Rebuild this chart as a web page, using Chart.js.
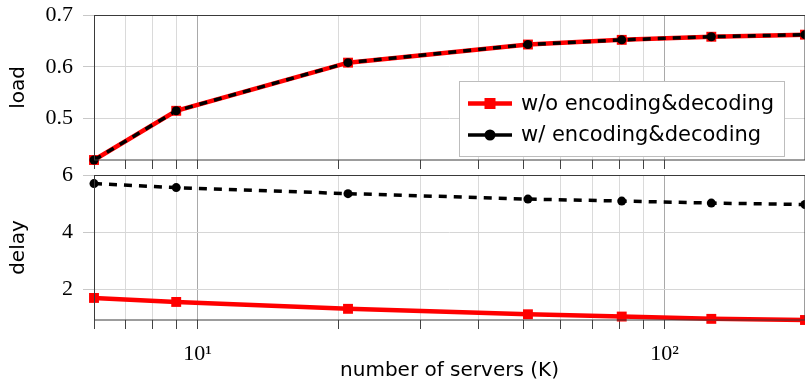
<!DOCTYPE html>
<html>
<head>
<meta charset="utf-8">
<script src="https://cdn.jsdelivr.net/npm/chart.js@4.4.0/dist/chart.umd.min.js"></script>
<style>
  html, body { margin: 0; padding: 0; background: #fff; }
  #wrap { position: relative; width: 805px; height: 381px; overflow: hidden; }
  .box { position: absolute; left: 0; width: 806px; }
  #top { top: 0; height: 171px; }
  #bot { top: 160px; height: 221px; }
</style>
</head>
<body>
<div id="wrap">
  <div class="box" id="top"><canvas id="chart-load"></canvas></div>
  <div class="box" id="bot"><canvas id="chart-delay"></canvas></div>
</div>
<script>
// values
const servers = [6, 9, 21, 51, 81, 126, 200];
const loadWithout = [0.420, 0.515, 0.608, 0.643, 0.652, 0.658, 0.662];
const loadWith = [0.420, 0.515, 0.608, 0.643, 0.652, 0.658, 0.662];
const delayWithout = [1.71, 1.57, 1.33, 1.14, 1.06, 0.98, 0.94];
const delayWith = [5.70, 5.56, 5.35, 5.16, 5.09, 5.02, 4.97];

const seriesNames = ["w/o encoding&decoding", "w/ encoding&decoding"];
const xTicks = [6, 7, 8, 9, 10, 20, 30, 40, 50, 60, 70, 80, 90, 100, 200];
const xTickLabels = { 10: "10¹", 100: "10²" };
const loadTicks = [0.5, 0.6, 0.7];
const delayTicks = [2, 4, 6];

const SANS = "'DejaVu Sans', sans-serif";
const SERIF = "'Liberation Serif', 'DejaVu Serif', serif";

Chart.defaults.color = "#000";
Chart.defaults.font.family = SANS;

const pts = arr => servers.map((x, i) => ({ x: x, y: arr[i] }));

function makeSeries(without, withEnc) {
  return [
    {
      label: seriesNames[0],
      data: pts(without),
      borderColor: "#ff0000",
      backgroundColor: "#ff0000",
      borderWidth: 4.5,
      pointStyle: "rect",
      pointRadius: 7,
      pointBorderWidth: 0,
      order: 1,
      clip: false
    },
    {
      label: seriesNames[1],
      data: pts(withEnc),
      borderColor: "#000",
      backgroundColor: "#000",
      borderWidth: 3.5,
      borderDash: [8, 7],
      pointStyle: "circle",
      pointRadius: 4.5,
      pointBorderWidth: 0,
      order: 0,
      clip: false
    }
  ];
}

// frame around the plot area
const frame = {
  id: "frame",
  afterDatasetsDraw(chart) {
    const { ctx, chartArea: a } = chart;
    ctx.save();
    ctx.strokeStyle = "#3a3a3a";
    ctx.lineWidth = 1;
    const l = Math.round(a.left) + 0.5, t = Math.round(a.top) + 0.5;
    ctx.strokeRect(l, t, Math.round(a.right) - l, Math.round(a.bottom) - t);
    ctx.restore();
  }
};

// boxed legend with line + marker samples
const legendBox = {
  id: "legendBox",
  afterDraw(chart) {
    const ctx = chart.ctx;
    const bx = 459, by = 81, bw = 325, bh = 75;
    ctx.save();
    ctx.fillStyle = "#fff";
    ctx.fillRect(bx, by, bw, bh);
    ctx.strokeStyle = "#bdbdbd";
    ctx.lineWidth = 1;
    ctx.strokeRect(bx + 0.5, by + 0.5, bw, bh);
    const rows = [103.5, 135];
    chart.data.datasets.forEach((ds, i) => {
      const y = rows[i];
      ctx.strokeStyle = ds.borderColor;
      ctx.fillStyle = ds.backgroundColor;
      ctx.lineWidth = ds.borderWidth;
      ctx.setLineDash([]);
      ctx.beginPath();
      ctx.moveTo(468, y);
      ctx.lineTo(512, y);
      ctx.stroke();
      if (ds.pointStyle === "rect") {
        ctx.fillRect(490 - 5.5, y - 5.5, 11, 11);
      } else {
        ctx.beginPath();
        ctx.arc(490, y, 5.5, 0, Math.PI * 2);
        ctx.fill();
      }
      ctx.fillStyle = "#000";
      ctx.font = "21px " + SANS;
      ctx.textBaseline = "middle";
      ctx.textAlign = "left";
      ctx.fillText(ds.label, 521, y + 1);
    });
    ctx.restore();
  }
};

// no extra room for half labels at the ends of an axis
const noEdgePad = s => {
  s.paddingTop = 0;
  s.paddingBottom = 0;
  s.paddingLeft = 0;
  s.paddingRight = 0;
};

function xScale(showLabels) {
  return {
    type: "logarithmic",
    min: 6,
    max: 200,
    afterBuildTicks: s => { s.ticks = xTicks.map(v => ({ value: v })); },
    afterFit: noEdgePad,
    ticks: {
      display: showLabels,
      autoSkip: false,
      maxRotation: 0,
      padding: 12,
      font: { family: SERIF, size: 22 },
      callback: v => xTickLabels[v] || ""
    },
    grid: {
      color: c => (c.tick && (c.tick.value === 10 || c.tick.value === 100)) ? "#a9a9a9" : "#dadada",
      tickColor: "#444",
      tickLength: 9,
      lineWidth: 1
    },
    border: { display: false },
    title: {
      display: showLabels,
      text: "number of servers (K)",
      font: { family: SANS, size: 20 },
      padding: { top: -21, bottom: 0 }
    }
  };
}

function yScale(min, max, ticks, title, fmt) {
  return {
    min: min,
    max: max,
    afterBuildTicks: s => { s.ticks = ticks.map(v => ({ value: v })); },
    afterFit: s => { s.width = 94; noEdgePad(s); },
    ticks: {
      padding: 10,
      font: { family: SERIF, size: 22 },
      callback: fmt
    },
    grid: { color: "#d6d6d6", tickColor: "#c8c8c8", tickLength: 11, lineWidth: 1 },
    border: { display: false },
    title: {
      display: true,
      text: title,
      font: { family: SANS, size: 20 },
      padding: { top: 7, bottom: 0 }
    }
  };
}

function baseOptions(pad) {
  return {
    responsive: true,
    maintainAspectRatio: false,
    animation: false,
    devicePixelRatio: 1,
    layout: { padding: pad, autoPadding: false },
    elements: { line: { tension: 0 } },
    plugins: { legend: { display: false }, tooltip: { enabled: false } }
  };
}

// nudge the layout padding until the plot area sits on the wanted box
function fitArea(chart, pad, box) {
  for (let k = 0; k < 3; k++) {
    const a = chart.chartArea;
    pad.top += box.top - a.top;
    pad.bottom += a.bottom - box.bottom;
    pad.right += a.right - box.right;
    chart.update();
  }
}

const loadPad = { top: 0, bottom: 0, left: 0, right: 0 };
const loadOpts = baseOptions(loadPad);
loadOpts.scales = {
  x: xScale(false),
  y: yScale(0.42, 0.7, loadTicks, "load", v => v.toFixed(1))
};
const loadChart = new Chart(document.getElementById("chart-load"), {
  type: "line",
  data: { datasets: makeSeries(loadWithout, loadWith) },
  options: loadOpts,
  plugins: [frame, legendBox]
});
fitArea(loadChart, loadPad, { top: 15, bottom: 160, right: 805 });

const delayPad = { top: 0, bottom: 0, left: 0, right: 0 };
const delayOpts = baseOptions(delayPad);
delayOpts.scales = {
  x: xScale(true),
  y: yScale(0.94, 6, delayTicks, "delay", v => String(v))
};
const delayChart = new Chart(document.getElementById("chart-delay"), {
  type: "line",
  data: { datasets: makeSeries(delayWithout, delayWith) },
  options: delayOpts,
  plugins: [frame]
});
fitArea(delayChart, delayPad, { top: 15, bottom: 160, right: 805 });
</script>
</body>
</html>
